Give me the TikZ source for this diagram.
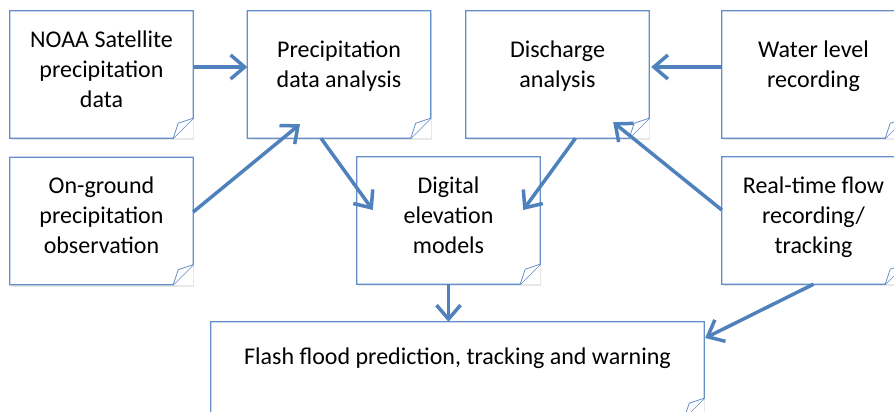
\documentclass[tikz,border=0pt]{standalone}
\usepackage{fontspec}
\setmainfont{Carlito}
\usetikzlibrary{arrows.meta,shadows}
\definecolor{officeblue}{RGB}{79,129,189}
\definecolor{noteline}{RGB}{100,142,200}

\begin{document}
\begin{tikzpicture}[x=1pt, y=-1pt,
    note/.style={minimum width=183pt, minimum height=127pt, inner sep=0pt,
        align=center, fill=white, text depth=11pt,
        drop shadow={opacity=0.18, shadow xshift=1pt, shadow yshift=-2pt},
        font=\fontsize{24}{30}\selectfont},
    fold/.style={noteline, line width=1.2pt},
    flow/.style={officeblue, line width=3.5pt,
        -{Straight Barb[length=14pt, width=24pt]}}]
    \useasboundingbox (0,0) rectangle (894,412);

    \node[note] (noaa) at (101.5,74.5) {NOAA Satellite\\precipitation\\data};
    \node[note, text depth=20pt] (precip) at (339,74.5) {Precipitation\\data analysis};
    \node[note, text depth=20pt] (disch) at (557.5,74.5) {Discharge\\analysis};
    \node[note, text depth=20pt] (water) at (813.5,74.5) {Water level\\recording};
    \node[note] (ground) at (101.5,221) {On-ground\\precipitation\\observation};
    \node[note] (dem) at (448.5,220.5) {Digital\\elevation\\models};
    \node[note] (realtime) at (813.5,220.5) {Real-time flow\\recording/\\tracking};
    \node[note, minimum width=493pt, minimum height=96pt, text depth=27pt]
        (flash) at (457.5,370) {Flash flood prediction, tracking and warning};

   \foreach \n in {noaa,precip,disch,water,ground,dem,realtime,flash} {
    \draw[fold] (\n.north west) -- (\n.north east) -- ([yshift=20pt]\n.south east)
        -- ([xshift=-20pt]\n.south east) -- (\n.south west) -- cycle;
    \draw[fold, line width=0.8pt, fill=white] ([yshift=20pt]\n.south east)
        -- ([shift={(-15pt,15pt)}]\n.south east) -- ([xshift=-20pt]\n.south east);
}

    \draw[flow] ([yshift=7.5pt]noaa.east) -- ([yshift=7.5pt]precip.west);
    \draw[flow] ([yshift=9pt]ground.east) -- ([shift={(-39pt,14pt)}]precip.south);
    \draw[flow] ([xshift=-18pt]precip.south) -- ([shift={(16pt,10.5pt)}]dem.west);
    \draw[flow] ([xshift=18pt]disch.south) -- ([shift={(-17pt,10.5pt)}]dem.east);
    \draw[flow] ([yshift=7.5pt]water.west) -- ([shift={(2pt,7.5pt)}]disch.east);
    \draw[flow] ([yshift=10.5pt]realtime.west) -- ([shift={(-36pt,16pt)}]disch.south east);
    \draw[flow] (dem.south) -- (dem.south |- flash.north);
    \draw[flow] (realtime.south) -- ([shift={(1pt,32pt)}]flash.east);
\end{tikzpicture}
\end{document}
